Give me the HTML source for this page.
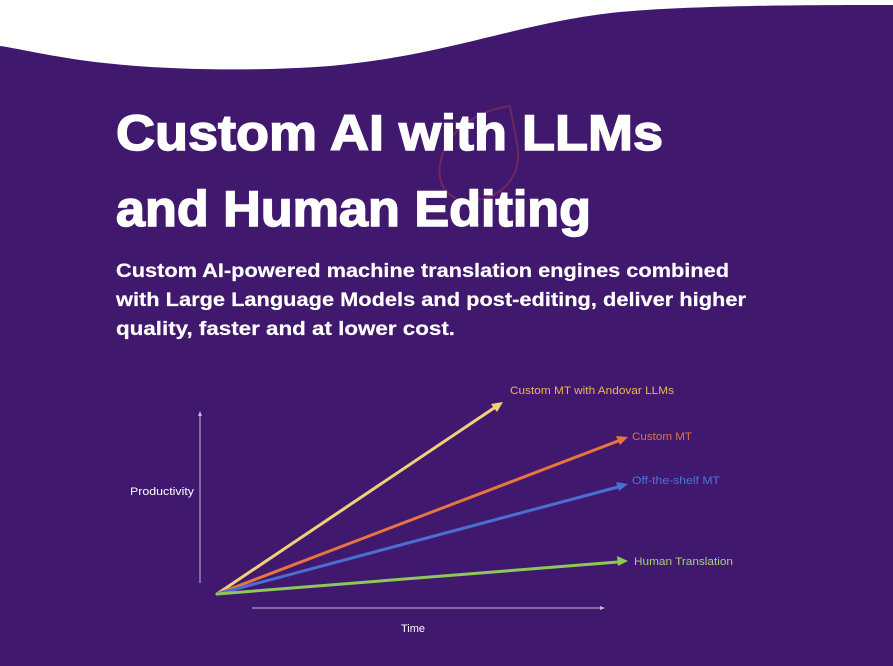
<!DOCTYPE html>
<html><head><style>
html,body{margin:0;padding:0;width:893px;height:666px;overflow:hidden;background:#40196f}
svg{display:block}
</style></head><body>
<svg width="893" height="666" viewBox="0 0 893 666" xmlns="http://www.w3.org/2000/svg">
<rect width="893" height="666" fill="#40196f"/>
<path d="M0 0 H893 V5 C820 5 700 5 620 12 C520 22 450 55 330 66 C250 72 150 70 80 60 C40 54 15 48 0 46 Z" fill="#ffffff"/>
<path d="M510 106 C480 110 445 130 440 165 C436 190 455 205 478 200 C505 195 520 175 518 150 C516 135 512 120 510 106 Z" fill="none" stroke="#7a2a5a" stroke-width="2" opacity="0.8"/>
<g font-family="Liberation Sans, sans-serif" font-weight="bold" fill="#ffffff" stroke="#ffffff">
<text x="116" y="150" font-size="50" stroke-width="1.5" textLength="547" lengthAdjust="spacingAndGlyphs">Custom AI with LLMs</text>
<text x="116" y="226" font-size="50" stroke-width="1.5" textLength="475" lengthAdjust="spacingAndGlyphs">and Human Editing</text>
<text x="116" y="277" font-size="19" stroke-width="0.2" textLength="613" lengthAdjust="spacingAndGlyphs">Custom AI-powered machine translation engines combined</text>
<text x="116" y="306" font-size="19" stroke-width="0.2" textLength="630" lengthAdjust="spacingAndGlyphs">with Large Language Models and post-editing, deliver higher</text>
<text x="116" y="335" font-size="19" stroke-width="0.2" textLength="339" lengthAdjust="spacingAndGlyphs">quality, faster and at lower cost.</text>
</g>
<g stroke-width="1">
<line x1="200" y1="583" x2="200" y2="415" stroke="#c8bcd8"/>
<path d="M200 411 l-2 5 h4z" fill="#c8bcd8"/>
<line x1="252" y1="608" x2="600" y2="608" stroke="#c8bcd8"/>
<path d="M605 608 l-5 -2 v4z" fill="#c8bcd8"/>
</g>
<g stroke-width="3" stroke-linecap="round">
<line x1="217" y1="594" x2="494" y2="408" stroke="#f2d07a"/>
<path d="M503 402 l-12 2 l6 8z" fill="#f2d07a"/>
<line x1="217" y1="594" x2="618" y2="441" stroke="#e8743f"/>
<path d="M628 437 l-12 -1 l4 9z" fill="#e8743f"/>
<line x1="217" y1="594" x2="618" y2="487" stroke="#4b6fd0"/>
<path d="M628 484 l-12 -2 l3 9z" fill="#4b6fd0"/>
<line x1="217" y1="594" x2="618" y2="562" stroke="#8dc85a"/>
<path d="M628 561 l-11 -5 l1 10z" fill="#8dc85a"/>
</g>
<g font-family="Liberation Sans, sans-serif" font-size="11">
<text x="510" y="394" fill="#f0b54a" textLength="164" lengthAdjust="spacingAndGlyphs">Custom MT with Andovar LLMs</text>
<text x="632" y="440" fill="#e2703c" textLength="60" lengthAdjust="spacingAndGlyphs">Custom MT</text>
<text x="632" y="484" fill="#4a74d8" textLength="88" lengthAdjust="spacingAndGlyphs">Off-the-shelf MT</text>
<text x="634" y="565" fill="#a8d07c" textLength="99" lengthAdjust="spacingAndGlyphs">Human Translation</text>
<text x="130" y="495" fill="#ffffff" textLength="64" lengthAdjust="spacingAndGlyphs">Productivity</text>
<text x="401" y="632" fill="#ffffff">Time</text>
</g>
</svg>
</body></html>
